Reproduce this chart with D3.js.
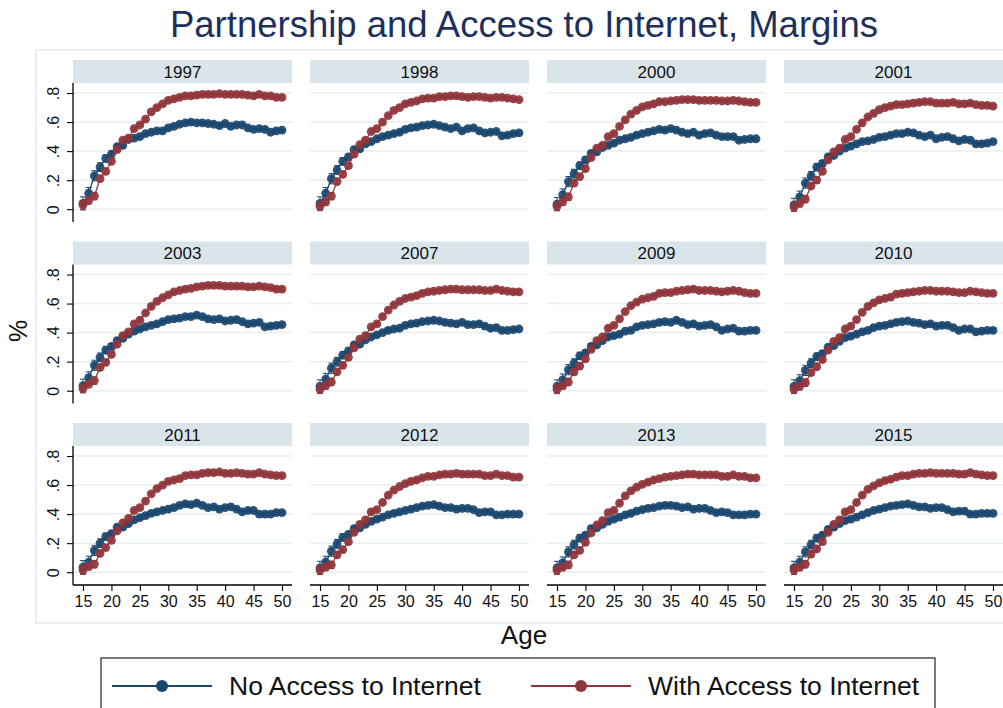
<!DOCTYPE html>
<html><head><meta charset="utf-8">
<script src="https://cdn.jsdelivr.net/npm/d3@7"></script>
<style>body{margin:0;background:#fff;}svg{display:block;font-family:"Liberation Sans",Arial,Helvetica,sans-serif;}</style>
</head><body>
<svg id="c" width="1003" height="708"></svg>
<script>
const ages = [15,16,17,18,19,20,21,22,23,24,25,26,27,28,29,30,31,32,33,34,35,36,37,38,39,40,41,42,43,44,45,46,47,48,49,50];
const years = ["1997","1998","2000","2001","2003","2007","2009","2010","2011","2012","2013","2015"];
const seriesNames = ["No Access to Internet","With Access to Internet"];
const yTicks = [0,0.2,0.4,0.6,0.8];
const yTickLabels = ["0",".2",".4",".6",".8"];
const xTicks = [15,20,25,30,35,40,45,50];

const noAccess1997 = [0.04,0.11,0.23,0.29,0.35,0.38,0.43,0.44,0.48,0.49,0.50,0.52,0.53,0.54,0.54,0.56,0.57,0.585,0.595,0.60,0.595,0.595,0.59,0.585,0.575,0.59,0.57,0.58,0.58,0.56,0.55,0.555,0.55,0.53,0.54,0.545];
const withAccess1997 = [0.03,0.06,0.09,0.21,0.26,0.33,0.41,0.475,0.49,0.555,0.58,0.62,0.67,0.70,0.725,0.75,0.76,0.77,0.78,0.78,0.785,0.79,0.79,0.79,0.795,0.79,0.79,0.79,0.79,0.785,0.78,0.79,0.78,0.78,0.77,0.77];
const noAccess1998 = [0.04,0.11,0.21,0.27,0.33,0.36,0.41,0.415,0.45,0.465,0.485,0.50,0.51,0.52,0.53,0.55,0.56,0.565,0.575,0.58,0.585,0.575,0.565,0.555,0.565,0.54,0.555,0.56,0.54,0.525,0.53,0.535,0.505,0.51,0.52,0.525];
const withAccess1998 = [0.02,0.05,0.09,0.19,0.24,0.30,0.38,0.445,0.475,0.535,0.555,0.60,0.645,0.68,0.70,0.725,0.735,0.745,0.76,0.765,0.765,0.775,0.775,0.78,0.78,0.775,0.77,0.775,0.775,0.77,0.765,0.77,0.77,0.765,0.76,0.755];
const noAccess2000 = [0.035,0.10,0.19,0.245,0.30,0.34,0.385,0.395,0.425,0.44,0.455,0.475,0.485,0.495,0.51,0.52,0.53,0.54,0.55,0.545,0.555,0.545,0.53,0.52,0.53,0.51,0.52,0.525,0.51,0.50,0.50,0.50,0.475,0.48,0.485,0.485];
const withAccess2000 = [0.02,0.05,0.085,0.18,0.225,0.28,0.355,0.42,0.44,0.50,0.52,0.57,0.615,0.655,0.68,0.705,0.715,0.725,0.74,0.74,0.745,0.75,0.755,0.755,0.755,0.75,0.75,0.75,0.75,0.745,0.745,0.75,0.745,0.74,0.735,0.735];
const noAccess2001 = [0.03,0.085,0.18,0.23,0.29,0.315,0.36,0.37,0.40,0.42,0.435,0.45,0.465,0.47,0.48,0.495,0.50,0.51,0.52,0.52,0.53,0.525,0.51,0.50,0.51,0.485,0.495,0.50,0.485,0.47,0.48,0.475,0.45,0.45,0.455,0.465];
const withAccess2001 = [0.015,0.04,0.07,0.16,0.20,0.26,0.34,0.395,0.42,0.48,0.50,0.55,0.595,0.635,0.66,0.685,0.70,0.71,0.72,0.72,0.725,0.73,0.735,0.74,0.74,0.73,0.73,0.73,0.735,0.725,0.725,0.73,0.72,0.715,0.715,0.71];
const noAccess2003 = [0.035,0.09,0.175,0.23,0.28,0.305,0.345,0.36,0.39,0.41,0.425,0.44,0.45,0.46,0.475,0.49,0.495,0.50,0.51,0.51,0.52,0.51,0.495,0.49,0.495,0.48,0.485,0.49,0.475,0.46,0.465,0.47,0.44,0.445,0.45,0.455];
const withAccess2003 = [0.015,0.045,0.07,0.16,0.195,0.25,0.32,0.38,0.405,0.46,0.485,0.535,0.58,0.615,0.64,0.66,0.68,0.69,0.70,0.705,0.715,0.72,0.725,0.725,0.725,0.72,0.72,0.72,0.72,0.715,0.715,0.72,0.715,0.71,0.70,0.70];
const noAccess2007 = [0.03,0.08,0.155,0.20,0.245,0.275,0.315,0.32,0.35,0.37,0.385,0.40,0.415,0.425,0.43,0.45,0.46,0.465,0.475,0.48,0.485,0.48,0.47,0.465,0.46,0.47,0.455,0.455,0.46,0.445,0.43,0.435,0.415,0.415,0.42,0.425];
const withAccess2007 = [0.01,0.035,0.06,0.13,0.175,0.23,0.295,0.355,0.38,0.44,0.46,0.51,0.555,0.59,0.615,0.635,0.645,0.655,0.67,0.68,0.685,0.69,0.695,0.70,0.70,0.695,0.695,0.695,0.695,0.69,0.69,0.70,0.69,0.685,0.68,0.68];
const noAccess2009 = [0.03,0.075,0.145,0.19,0.24,0.26,0.305,0.315,0.345,0.37,0.38,0.39,0.41,0.415,0.44,0.45,0.455,0.46,0.47,0.475,0.47,0.485,0.47,0.455,0.46,0.445,0.45,0.455,0.44,0.415,0.425,0.43,0.41,0.41,0.415,0.415];
const withAccess2009 = [0.01,0.035,0.06,0.13,0.17,0.22,0.285,0.345,0.37,0.43,0.45,0.495,0.545,0.585,0.61,0.63,0.64,0.65,0.67,0.675,0.675,0.685,0.69,0.695,0.70,0.69,0.69,0.69,0.685,0.68,0.685,0.69,0.685,0.675,0.67,0.67];
const noAccess2010 = [0.03,0.07,0.14,0.19,0.235,0.255,0.30,0.31,0.34,0.365,0.375,0.39,0.405,0.415,0.435,0.445,0.45,0.46,0.47,0.475,0.48,0.47,0.465,0.455,0.46,0.445,0.45,0.45,0.435,0.415,0.425,0.425,0.405,0.41,0.415,0.415];
const withAccess2010 = [0.01,0.03,0.055,0.125,0.165,0.215,0.28,0.34,0.365,0.425,0.445,0.49,0.54,0.58,0.605,0.625,0.635,0.645,0.665,0.67,0.675,0.68,0.685,0.69,0.69,0.685,0.685,0.685,0.68,0.675,0.675,0.685,0.68,0.675,0.67,0.67];
const noAccess2011 = [0.035,0.07,0.15,0.20,0.245,0.265,0.31,0.31,0.335,0.36,0.375,0.39,0.405,0.415,0.425,0.435,0.445,0.46,0.47,0.465,0.475,0.46,0.445,0.45,0.435,0.445,0.45,0.435,0.415,0.425,0.425,0.40,0.40,0.40,0.41,0.41];
const withAccess2011 = [0.015,0.04,0.055,0.13,0.17,0.22,0.285,0.34,0.37,0.425,0.445,0.49,0.54,0.575,0.60,0.625,0.635,0.645,0.665,0.67,0.67,0.68,0.685,0.685,0.69,0.68,0.68,0.685,0.68,0.675,0.675,0.685,0.675,0.67,0.665,0.665];
const noAccess2012 = [0.03,0.07,0.145,0.195,0.24,0.26,0.30,0.305,0.33,0.35,0.365,0.38,0.395,0.405,0.415,0.425,0.435,0.445,0.455,0.46,0.465,0.455,0.445,0.445,0.435,0.44,0.44,0.43,0.41,0.415,0.415,0.395,0.395,0.40,0.40,0.40];
const withAccess2012 = [0.015,0.035,0.05,0.12,0.155,0.21,0.275,0.33,0.36,0.415,0.43,0.48,0.53,0.565,0.59,0.61,0.625,0.635,0.65,0.66,0.66,0.67,0.675,0.675,0.68,0.675,0.675,0.675,0.675,0.665,0.665,0.675,0.665,0.665,0.655,0.655];
const noAccess2013 = [0.03,0.065,0.14,0.19,0.235,0.255,0.30,0.305,0.33,0.35,0.365,0.38,0.395,0.405,0.42,0.43,0.44,0.445,0.455,0.46,0.46,0.455,0.445,0.45,0.435,0.44,0.44,0.425,0.41,0.415,0.41,0.395,0.395,0.395,0.40,0.40];
const withAccess2013 = [0.015,0.035,0.05,0.12,0.15,0.205,0.27,0.325,0.355,0.41,0.425,0.475,0.525,0.56,0.585,0.605,0.62,0.635,0.645,0.655,0.66,0.665,0.67,0.675,0.675,0.67,0.67,0.67,0.67,0.66,0.66,0.67,0.66,0.66,0.65,0.65];
const noAccess2015 = [0.03,0.07,0.14,0.19,0.235,0.255,0.295,0.31,0.335,0.355,0.365,0.38,0.395,0.41,0.425,0.435,0.445,0.455,0.46,0.465,0.47,0.46,0.45,0.45,0.44,0.445,0.445,0.43,0.415,0.42,0.42,0.40,0.40,0.405,0.405,0.405];
const withAccess2015 = [0.015,0.035,0.055,0.125,0.16,0.21,0.275,0.33,0.36,0.415,0.43,0.48,0.53,0.57,0.595,0.615,0.63,0.64,0.655,0.665,0.665,0.675,0.68,0.68,0.685,0.68,0.68,0.68,0.68,0.675,0.675,0.685,0.675,0.67,0.665,0.665];
// approximate 95% CI half-widths by age (same for all panels)
const ciNoAccess = [0.045,0.04,0.035,0.03,0.025,0.02,0.018,0.015,0.013,0.012,0.011,0.01,0.01,0.01,0.01,0.01,0.01,0.01,0.01,0.01,0.01,0.01,0.01,0.01,0.01,0.01,0.01,0.01,0.01,0.01,0.01,0.01,0.01,0.01,0.01,0.01];
const ciWithAccess = [0.03,0.025,0.025,0.02,0.02,0.018,0.015,0.013,0.012,0.011,0.01,0.01,0.01,0.01,0.01,0.01,0.01,0.01,0.01,0.01,0.01,0.01,0.01,0.01,0.01,0.01,0.01,0.01,0.01,0.01,0.01,0.01,0.01,0.01,0.01,0.01];

const noAccess = [noAccess1997,noAccess1998,noAccess2000,noAccess2001,noAccess2003,noAccess2007,noAccess2009,noAccess2010,noAccess2011,noAccess2012,noAccess2013,noAccess2015];
const withAccess = [withAccess1997,withAccess1998,withAccess2000,withAccess2001,withAccess2003,withAccess2007,withAccess2009,withAccess2010,withAccess2011,withAccess2012,withAccess2013,withAccess2015];
const colors = ["#1a476f","#90353b"];

const svg = d3.select("#c");
// outer plot-region border
svg.append("rect").attr("x",36).attr("y",50).attr("width",990).attr("height",573)
  .attr("fill","none").attr("stroke","#e3ebee").attr("stroke-width",1.5);

svg.append("text").attr("x",524).attr("y",37).attr("text-anchor","middle")
  .attr("font-size",36.5).attr("fill","#1e2f5c").text("Partnership and Access to Internet, Margins");

const colX0 = 73, colStep = 237, panelW = 219;
const rowY0 = 60, rowStep = 181.5, stripH = 23, plotH = 139;
const x = d3.scaleLinear().domain([13.24,51.76]).range([0,panelW]);
const y = d3.scaleLinear().domain([-0.088,0.869]).range([plotH,0]);

years.forEach((yr,i)=>{
  const c = i%4, r = Math.floor(i/4);
  const g = svg.append("g").attr("transform",`translate(${colX0+c*colStep},${rowY0+r*rowStep})`);
  g.append("rect").attr("x",0).attr("y",0).attr("width",panelW).attr("height",stripH).attr("fill","#d9e5eb");
  g.append("text").attr("x",panelW/2).attr("y",stripH/2+6).attr("text-anchor","middle").attr("font-size",17).attr("fill","#111").text(yr);
  const p = g.append("g").attr("transform",`translate(0,${stripH})`);
  p.selectAll("line.grid").data(yTicks).join("line").attr("class","grid")
    .attr("x1",0).attr("x2",panelW).attr("y1",d=>y(d)).attr("y2",d=>y(d))
    .attr("stroke","#e7efef").attr("stroke-width",1.5);
  if(c===0){
    const ax = p.append("g").call(d3.axisLeft(y).tickValues(yTicks).tickSize(6).tickFormat((d,k)=>yTickLabels[k]));
    ax.select(".domain").attr("stroke","#000").attr("stroke-width",1.3).attr("d",`M0,0V${plotH}`);
    ax.selectAll(".tick line").attr("stroke","#000").attr("stroke-width",1.1);
    ax.selectAll(".tick text").attr("font-size",16).attr("fill","#111").attr("font-family","Liberation Sans, Arial, sans-serif")
      .attr("text-anchor","middle").attr("transform","rotate(-90)").attr("x",0).attr("y",-20).attr("dy","0.35em");
  }
  if(r===2){
    const ax = p.append("g").attr("transform",`translate(0,${plotH})`).call(d3.axisBottom(x).tickValues(xTicks).tickSize(6));
    ax.select(".domain").attr("stroke","#000").attr("stroke-width",1.3).attr("d",`M0,0H${panelW}`);
    ax.selectAll(".tick line").attr("stroke","#000").attr("stroke-width",1.1);
    ax.selectAll(".tick text").attr("font-size",16).attr("fill","#111").attr("font-family","Liberation Sans, Arial, sans-serif").attr("y",11);
  }
  [[noAccess[i],ciNoAccess,colors[0]],[withAccess[i],ciWithAccess,colors[1]]].forEach(([vals,ci,col])=>{
    const pts = ages.map((a,k)=>({a,v:vals[k],ci:ci[k]}));
    const s = p.append("g");
    s.selectAll("line.ci").data(pts).join("line").attr("x1",d=>x(d.a)).attr("x2",d=>x(d.a))
      .attr("y1",d=>y(d.v-d.ci)).attr("y2",d=>y(d.v+d.ci)).attr("stroke",col).attr("stroke-width",1);
    s.selectAll("g.cap").data(pts).join("g").each(function(d){
      const gg=d3.select(this);
      [d.v-d.ci,d.v+d.ci].forEach(v=>gg.append("line").attr("x1",x(d.a)-3).attr("x2",x(d.a)+3).attr("y1",y(v)).attr("y2",y(v)).attr("stroke",col).attr("stroke-width",1));
    });
    s.append("path").datum(pts).attr("fill","none").attr("stroke",col).attr("stroke-width",1.3)
      .attr("d",d3.line().x(d=>x(d.a)).y(d=>y(d.v)));
    s.selectAll("circle").data(pts).join("circle").attr("cx",d=>x(d.a)).attr("cy",d=>y(d.v)).attr("r",4.4)
      .attr("fill",col).attr("fill-opacity",0.92);
  });
});

// axis titles
svg.append("text").attr("transform","translate(27,331) rotate(-90)").attr("text-anchor","middle")
  .attr("font-size",25).attr("fill","#111").text("%");
svg.append("text").attr("x",524).attr("y",644).attr("text-anchor","middle")
  .attr("font-size",26).attr("fill","#111").text("Age");

// legend
const lg = svg.append("g");
lg.append("rect").attr("x",101).attr("y",658).attr("width",834).attr("height",60).attr("fill","#fff").attr("stroke","#333").attr("stroke-width",1.3);
const legItems = [{x:112,tx:229},{x:531,tx:648}];
seriesNames.forEach((n,k)=>{
  const it = legItems[k];
  lg.append("line").attr("x1",it.x).attr("x2",it.x+100).attr("y1",686).attr("y2",686).attr("stroke",colors[k]).attr("stroke-width",2);
  lg.append("circle").attr("cx",it.x+50).attr("cy",686).attr("r",6).attr("fill",colors[k]);
  lg.append("text").attr("x",it.tx).attr("y",695).attr("font-size",26.5).attr("fill","#111").text(n);
});
</script>
</body></html>
